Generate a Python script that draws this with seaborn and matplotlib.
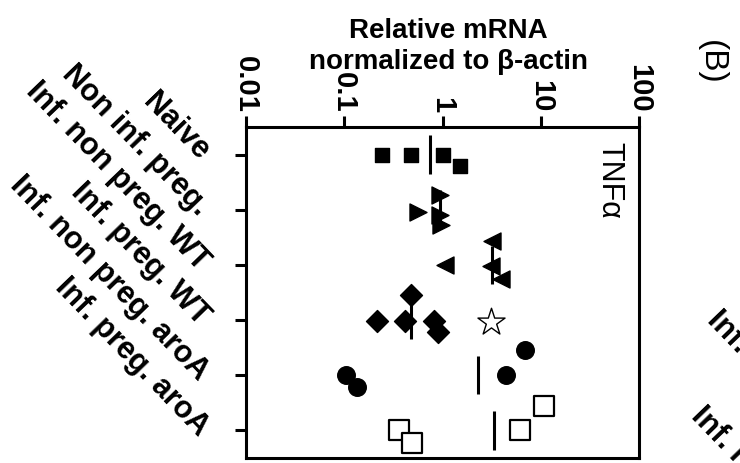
import numpy as np
import pandas as pd
import matplotlib
matplotlib.use('Agg')
import matplotlib.pyplot as plt
from matplotlib.ticker import NullLocator
import seaborn as sns

# Style
sns.set_style("ticks")
plt.rcParams['font.family'] = ['Liberation Sans', 'DejaVu Sans']
plt.rcParams['text.color'] = 'black'
plt.rcParams['xtick.color'] = 'black'
plt.rcParams['ytick.color'] = 'black'
plt.rcParams['axes.labelcolor'] = 'black'

# Groups (top to bottom) and relative mRNA values
groups = ['Naive', 'Non inf. preg.', 'Inf. non preg. WT', 'Inf. preg. WT',
          'Inf. non preg. aroA', 'Inf. preg. aroA']

naive = [0.24, 0.475, 1.02, 1.52]
naive_off = [0.0, 0.0, 0.0, 0.2]
non_inf_preg = [0.57, 0.94, 0.95, 0.96]
non_inf_preg_off = [0.04, -0.27, 0.09, 0.27]
inf_nonpreg_wt = [1.07, 3.13, 3.2, 3.95]
inf_nonpreg_wt_off = [0.0, 0.02, -0.43, 0.25]
inf_preg_wt = [0.215, 0.42, 0.475, 0.81, 0.91]
inf_preg_wt_off = [0.02, 0.02, -0.45, 0.02, 0.22]
inf_preg_wt_star = [3.1]
inf_preg_wt_star_off = [0.03]
inf_nonpreg_aroa = [0.105, 0.135, 4.43, 6.9]
inf_nonpreg_aroa_off = [0.0, 0.22, 0.0, -0.45]
inf_preg_aroa = [0.36, 0.486, 6.14, 10.7]
inf_preg_aroa_off = [0.0, 0.23, 0.0, -0.45]

x_ticks = [0.01, 0.1, 1, 10, 100]
x_tick_labels = ['0.01', '0.1', '1', '10', '100']

values = [naive, non_inf_preg, inf_nonpreg_wt, inf_preg_wt, inf_nonpreg_aroa, inf_preg_aroa]
offsets = [naive_off, non_inf_preg_off, inf_nonpreg_wt_off, inf_preg_wt_off,
           inf_nonpreg_aroa_off, inf_preg_aroa_off]

rows = []
for i, (g, vals, offs) in enumerate(zip(groups, values, offsets)):
    for v, o in zip(vals, offs):
        rows.append({'group': g, 'value': v, 'ypos': i + o})
df = pd.DataFrame(rows)

# marker, face colour, size, edge width
styles = {
    'Naive': ('s', 'black', 110, 1),
    'Non inf. preg.': ('>', 'black', 150, 1),
    'Inf. non preg. WT': ('<', 'black', 150, 1),
    'Inf. preg. WT': ('D', 'black', 125, 1),
    'Inf. non preg. aroA': ('o', 'black', 160, 1),
    'Inf. preg. aroA': ('s', 'white', 190, 1.6),
}

fig = plt.figure(figsize=(7.4, 4.64), dpi=100)
ax = fig.add_axes([0.332, 0.011, 0.532, 0.713])

for g in groups:
    m, fc, s, lw = styles[g]
    sns.scatterplot(data=df[df['group'] == g], x='value', y='ypos', marker=m, s=s,
                    color=fc, edgecolor='black', linewidth=lw, ax=ax, zorder=3,
                    legend=False)

# open star in the Inf. preg. WT row
star_y = [groups.index('Inf. preg. WT') + o for o in inf_preg_wt_star_off]
sns.scatterplot(x=inf_preg_wt_star, y=star_y, marker='*', s=420, color='white',
                edgecolor='black', linewidth=1, ax=ax, zorder=3, legend=False)

# median bars
for i, vals in enumerate(values):
    ax.vlines(np.median(vals), i - 0.35, i + 0.35, color='black', lw=2.2, zorder=2)

ax.set_xscale('log')
ax.set_xlim(0.01, 100)
ax.set_ylim(5.5, -0.5)
ax.xaxis.tick_top()
ax.xaxis.set_label_position('top')
ax.set_xticks(x_ticks)
ax.set_xticklabels(x_tick_labels, rotation=-90, fontsize=21, fontweight='bold')
ax.xaxis.set_minor_locator(NullLocator())
ax.set_yticks(range(len(groups)))
ax.set_yticklabels(groups, rotation=-46, ha='right', va='center', rotation_mode='anchor',
                   fontsize=22, fontweight='bold')
ax.tick_params(axis='both', direction='out', length=8, width=2.2, color='black')
ax.tick_params(axis='x', pad=3)
ax.tick_params(axis='y', pad=22)
for sp in ax.spines.values():
    sp.set_linewidth(2.2)
    sp.set_color('black')

ax.set_ylabel('')
ax.set_xlabel('Relative mRNA\nnormalized to \u03b2-actin', fontsize=20, fontweight='bold',
              linespacing=1.25)
ax.xaxis.set_label_coords(0.514, 1.18)

ax.text(0.925, 0.958, 'TNF\u03b1', rotation=-90, ha='center', va='top', fontsize=22,
        transform=ax.transAxes)
fig.text(0.961, 0.866, '(B)', rotation=-90, ha='center', va='center', fontsize=24)

# labels of the neighbouring panel, cut by the figure edge
fig.text(0.976, 0.342, 'Inf. preg. WT', rotation=-46, rotation_mode='anchor',
         ha='left', va='top', fontsize=22, fontweight='bold')
fig.text(0.955, 0.135, 'Inf. non preg. WT', rotation=-46, rotation_mode='anchor',
         ha='left', va='top', fontsize=22, fontweight='bold')

fig.savefig('out.png', dpi=100)
plt.close(fig)
